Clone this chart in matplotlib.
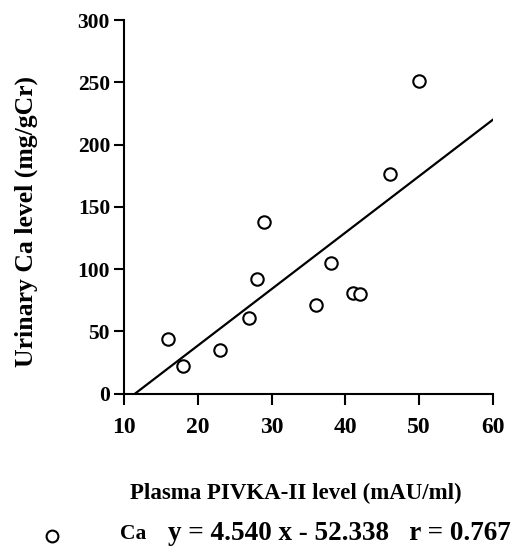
import matplotlib
matplotlib.use('Agg')
import matplotlib.pyplot as plt
import numpy as np

# Plasma PIVKA-II (mAU/ml) vs urinary Ca (mg/gCr)
pivka = np.array([16, 18, 23, 27, 28, 29, 36, 38, 41, 42, 46, 50])
urinary_ca = np.array([44, 22, 35, 61, 92, 138, 71, 105, 81, 80, 176, 251])

slope = 4.540
intercept = -52.338
r_value = 0.767

x_ticks = [10, 20, 30, 40, 50, 60]
y_ticks = [0, 50, 100, 150, 200, 250, 300]

plt.rcParams['font.family'] = 'Liberation Serif'
plt.rcParams['font.weight'] = 'bold'

fig = plt.figure(figsize=(5.25, 5.59), dpi=100)
ax = fig.add_axes([0.236, 0.296, 0.703, 0.668])

ax.scatter(pivka, urinary_ca, s=80, facecolors='white', edgecolors='black',
           linewidths=1.5, zorder=3)

x0 = -intercept / slope
xs = np.array([x0, 60])
ax.plot(xs, slope * xs + intercept, color='black', linewidth=1.6)

ax.set_xlim(10, 60)
ax.set_ylim(0, 300)
ax.set_xticks(x_ticks)
ax.set_yticks(y_ticks)
for s in ['top', 'right']:
    ax.spines[s].set_visible(False)
for s in ['left', 'bottom']:
    ax.spines[s].set_linewidth(1.5)
ax.tick_params(axis='x', direction='out', length=8, width=1.5, labelsize=17, pad=9)
ax.tick_params(axis='y', direction='out', length=7, width=1.5, labelsize=15.5, pad=3)
for lab in ax.get_xticklabels() + ax.get_yticklabels():
    lab.set_fontweight('bold')

ax.set_ylabel('Urinary Ca level (mg/gCr)', fontsize=18.5, fontweight='bold')
ax.yaxis.set_label_coords(-0.232, 0.46)
fig.text(0.563, 0.117, 'Plasma PIVKA-II level (mAU/ml)', fontsize=16.5,
         fontweight='bold', ha='center', va='center')

# legend row
fig.add_artist(plt.Line2D([0.099], [0.041], marker='o', markersize=8.5,
                          markerfacecolor='white', markeredgecolor='black',
                          markeredgewidth=1.5, transform=fig.transFigure))
fig.text(0.229, 0.045, 'Ca', fontsize=15.5, fontweight='bold', ha='left', va='center')
fig.text(0.32, 0.045, 'y = %.3f x - %.3f   r = %.3f' % (slope, -intercept, r_value),
         fontsize=19.5, fontweight='bold', ha='left', va='center')

fig.savefig('out.png', dpi=100)
